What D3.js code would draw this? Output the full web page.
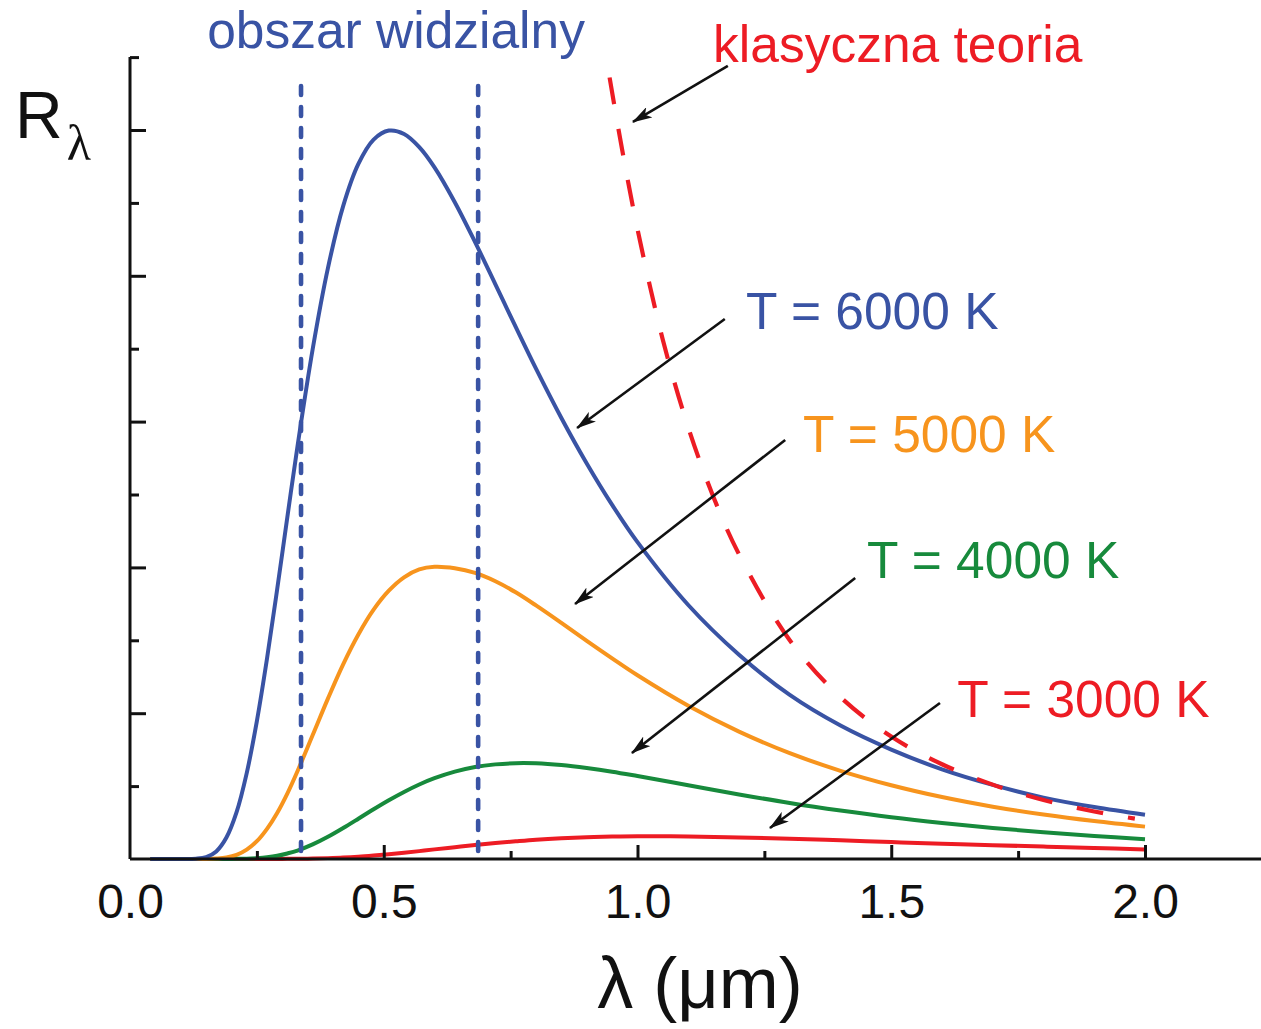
<!DOCTYPE html>
<html>
<head>
<meta charset="utf-8">
<script src="https://cdn.jsdelivr.net/npm/d3@7"></script>
<style>
html, body { margin: 0; padding: 0; background: #ffffff; }
svg { display: block; font-family: "Liberation Sans", Arial, Helvetica, sans-serif; }
</style>
</head>
<body>
<svg id="chart" width="1261" height="1029"></svg>
<script>
// ---------------- DATA ----------------
const wavelengths = [0.04, 0.10, 0.13, 0.15, 0.17, 0.19, 0.21, 0.23, 0.25, 0.27, 0.29, 0.31, 0.33, 0.36, 0.39, 0.42, 0.45, 0.48, 0.51, 0.54, 0.57, 0.60, 0.64, 0.68, 0.72, 0.76, 0.80, 0.85, 0.90, 0.95, 1.00, 1.10, 1.20, 1.30, 1.40, 1.50, 1.60, 1.70, 1.80, 1.90, 2.00];

const r6000 = [0, 0, 0.002, 0.013, 0.052, 0.147, 0.321, 0.589, 0.946, 1.375, 1.850, 2.344, 2.829, 3.498, 4.053, 4.478, 4.767, 4.934, 4.996, 4.973, 4.883, 4.744, 4.505, 4.231, 3.941, 3.649, 3.363, 3.025, 2.713, 2.429, 2.173, 1.742, 1.401, 1.125, 0.915, 0.750, 0.615, 0.508, 0.421, 0.356, 0.303];

const r5000 = [0, 0, 0, 0, 0.003, 0.010, 0.028, 0.064, 0.122, 0.207, 0.316, 0.449, 0.602, 0.850, 1.100, 1.335, 1.540, 1.710, 1.840, 1.932, 1.986, 2.004, 1.994, 1.962, 1.905, 1.829, 1.739, 1.619, 1.496, 1.376, 1.260, 1.051, 0.874, 0.726, 0.605, 0.506, 0.425, 0.359, 0.305, 0.260, 0.222];

const r4000 = [0, 0, 0, 0, 0, 0, 0.001, 0.002, 0.006, 0.012, 0.022, 0.038, 0.058, 0.100, 0.152, 0.212, 0.276, 0.341, 0.403, 0.460, 0.511, 0.554, 0.599, 0.631, 0.649, 0.657, 0.656, 0.644, 0.624, 0.599, 0.569, 0.506, 0.443, 0.384, 0.332, 0.286, 0.247, 0.213, 0.184, 0.158, 0.136];

const r3000 = [0, 0, 0, 0, 0, 0, 0, 0, 0, 0, 0, 0.001, 0.001, 0.003, 0.006, 0.010, 0.016, 0.024, 0.033, 0.043, 0.054, 0.066, 0.081, 0.096, 0.109, 0.121, 0.132, 0.142, 0.149, 0.154, 0.156, 0.155, 0.148, 0.139, 0.128, 0.116, 0.105, 0.095, 0.085, 0.076, 0.066];

const classicalX = [0.945, 0.97, 1.00, 1.05, 1.10, 1.15, 1.20, 1.30, 1.40, 1.50, 1.60, 1.70, 1.80, 1.90, 1.98];
const classicalY = [5.36, 4.86, 4.32, 3.56, 2.96, 2.48, 2.09, 1.50, 1.11, 0.84, 0.65, 0.51, 0.405, 0.326, 0.277];

const visibleBounds = [0.337, 0.686];

const seriesLabels = ["T = 3000 K", "T = 4000 K", "T = 5000 K", "T = 6000 K"];
const xMajorTicks = [0, 0.5, 1.0, 1.5, 2.0];
const xMinorTicks = [0.25, 0.75, 1.25, 1.75];
const yMajorTicks = [0, 1, 2, 3, 4, 5];
const yMinorTicks = [0.5, 1.5, 2.5, 3.5, 4.5, 5.5];

// ---------------- LAYOUT / STYLE ----------------
const COLORS = { blue: "#3953a4", orange: "#f7941d", green: "#178a3c", red: "#ed1c24" };
const seriesColors = [COLORS.red, COLORS.green, COLORS.orange, COLORS.blue];
const seriesData = [r3000, r4000, r5000, r6000];

const svg = d3.select("#chart");
const x = d3.scaleLinear().domain([0, 2]).range([130, 1145]);
const y = d3.scaleLinear().domain([0, 5]).range([859, 130]);
const xAxisEnd = 1261;
const yTop = 5.5;

// ---- curves ----
const line = d3.line()
  .x(d => x(d[0]))
  .y(d => y(Math.max(0, d[1])))
  .curve(d3.curveCatmullRom.alpha(0.5));

const curvesG = svg.append("g").attr("class", "curves");
seriesData.forEach((vals, i) => {
  const pts = wavelengths.map((w, k) => [w, vals[k]]);
  curvesG.append("path")
    .datum(pts)
    .attr("d", line)
    .attr("fill", "none")
    .attr("stroke", seriesColors[i])
    .attr("stroke-width", 4)
    .attr("stroke-linejoin", "round")
    .attr("stroke-linecap", "butt");
});

// classical theory (dashed)
svg.append("path")
  .datum(classicalX.map((w, k) => [w, classicalY[k]]))
  .attr("d", line)
  .attr("fill", "none")
  .attr("stroke", COLORS.red)
  .attr("stroke-width", 4.2)
  .attr("stroke-dasharray", "27,25");

// visible region dotted lines
svg.append("g").selectAll("line")
  .data(visibleBounds)
  .join("line")
  .attr("x1", d => x(d)).attr("x2", d => x(d))
  .attr("y1", 86).attr("y2", y(0) + 2)
  .attr("stroke", COLORS.blue)
  .attr("stroke-width", 4.6)
  .attr("stroke-linecap", "round")
  .attr("stroke-dasharray", "9,12");

// ---- axes ----
const axisStyle = g => {
  g.selectAll("path, line").attr("stroke", "#111").attr("stroke-width", 3);
};

// x axis (major, with labels)
const gx = svg.append("g").attr("transform", `translate(0,${y(0)})`)
  .call(d3.axisBottom(x).tickValues(xMajorTicks).tickSizeInner(-14).tickSizeOuter(0).tickPadding(25)
    .tickFormat(d3.format(".1f")));
gx.select(".domain").attr("d", `M${x(0)},0H${xAxisEnd}`);
gx.selectAll("text").attr("font-size", 48).attr("fill", "#111")
  .attr("font-family", "'Liberation Sans', Arial, sans-serif").attr("dy", "0.71em");
axisStyle(gx);
gx.selectAll(".tick").filter(d => d === 0).select("line").remove();

// x axis minor ticks
const gxm = svg.append("g").attr("transform", `translate(0,${y(0)})`)
  .call(d3.axisBottom(x).tickValues(xMinorTicks).tickSizeInner(-8).tickSizeOuter(0).tickFormat(""));
gxm.select(".domain").remove();
axisStyle(gxm);

// y axis (major)
const gy = svg.append("g").attr("transform", `translate(${x(0)},0)`)
  .call(d3.axisLeft(y).tickValues(yMajorTicks).tickSizeInner(-16).tickSizeOuter(0).tickFormat(""));
gy.select(".domain").attr("d", `M0,${y(yTop)}V${y(0)}`);
axisStyle(gy);
gy.selectAll(".tick").filter(d => d === 0).select("line").remove();

// y axis minor ticks
const gym = svg.append("g").attr("transform", `translate(${x(0)},0)`)
  .call(d3.axisLeft(y).tickValues(yMinorTicks).tickSizeInner(-9).tickSizeOuter(0).tickFormat(""));
gym.select(".domain").remove();
axisStyle(gym);

// ---- axis titles ----
svg.append("text")
  .attr("x", 700).attr("y", 1008)
  .attr("text-anchor", "middle")
  .attr("font-size", 72)
  .attr("fill", "#111")
  .text("λ (μm)");

const rLabel = svg.append("text").attr("x", 15).attr("y", 138).attr("fill", "#111");
rLabel.append("tspan").attr("font-size", 66).text("R");
rLabel.append("tspan").attr("font-size", 50).attr("font-family", "'Liberation Serif', 'DejaVu Serif', serif")
  .attr("dx", 4).attr("dy", 22).text("λ");

// ---- annotations ----
svg.append("defs").append("marker")
  .attr("id", "arrow")
  .attr("viewBox", "0 0 20 12")
  .attr("refX", 19).attr("refY", 6)
  .attr("markerWidth", 20).attr("markerHeight", 12)
  .attr("markerUnits", "userSpaceOnUse")
  .attr("orient", "auto")
  .append("path")
  .attr("d", "M0,0 L20,6 L0,12 L5,6 Z")
  .attr("fill", "#111");

const annotations = [
  { text: "obszar widzialny", color: COLORS.blue, tx: 0.152, ty: 5.562, arrow: null },
  { text: "klasyczna teoria", color: COLORS.red, tx: 1.149, ty: 5.466, arrow: [[1.178, 5.439], [0.991, 5.055]] },
  { text: seriesLabels[3], color: COLORS.blue, tx: 1.214, ty: 3.635, arrow: [[1.172, 3.704], [0.881, 2.956]] },
  { text: seriesLabels[2], color: COLORS.orange, tx: 1.326, ty: 2.791, arrow: [[1.291, 2.874], [0.877, 1.749]] },
  { text: seriesLabels[1], color: COLORS.green, tx: 1.452, ty: 1.927, arrow: [[1.429, 1.927], [0.989, 0.727]] },
  { text: seriesLabels[0], color: COLORS.red, tx: 1.630, ty: 0.974, arrow: [[1.596, 1.070], [1.261, 0.213]] }
];

const annG = svg.append("g");
annotations.forEach(a => {
  annG.append("text")
    .attr("x", x(a.tx)).attr("y", y(a.ty))
    .attr("font-size", 51.5)
    .attr("fill", a.color)
    .text(a.text);
  if (a.arrow) {
    annG.append("line")
      .attr("x1", x(a.arrow[0][0])).attr("y1", y(a.arrow[0][1]))
      .attr("x2", x(a.arrow[1][0])).attr("y2", y(a.arrow[1][1]))
      .attr("stroke", "#111")
      .attr("stroke-width", 2.6)
      .attr("marker-end", "url(#arrow)");
  }
});
</script>
</body>
</html>
